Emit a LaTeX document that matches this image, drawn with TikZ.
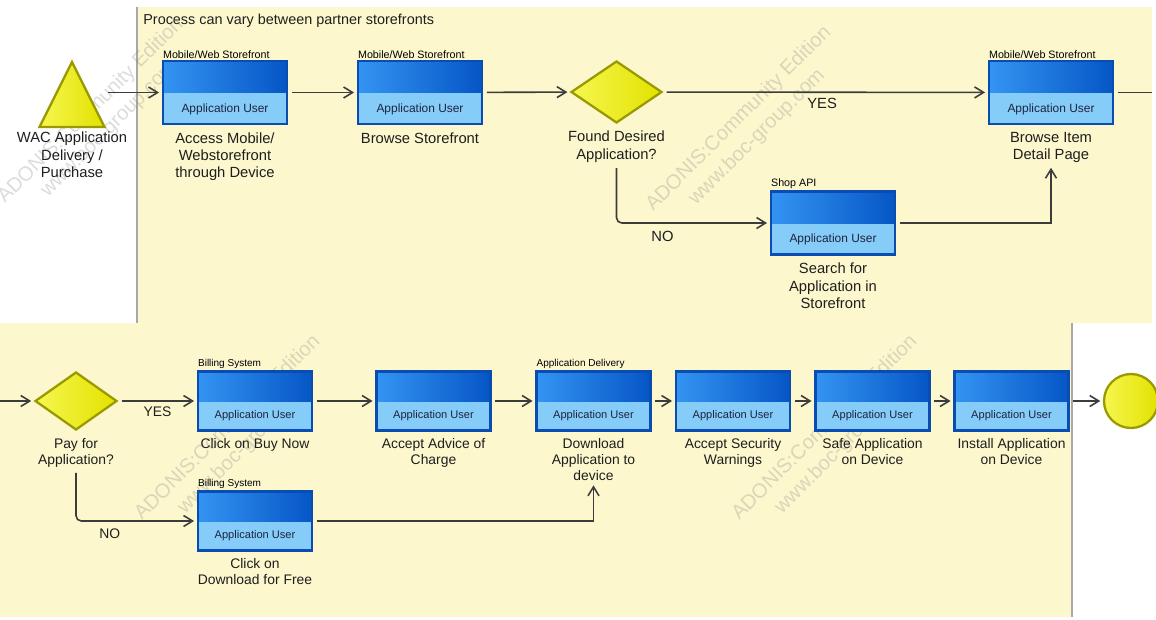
\documentclass[tikz,border=0pt]{standalone}
\usepackage{fontspec}
\setmainfont{Liberation Sans}
\usepackage{tikz}
\usetikzlibrary{shapes,arrows,positioning,calc,arrows.meta}

\definecolor{bandfill}{HTML}{FDF7CE}
\definecolor{bandline}{HTML}{A8A8A8}
\definecolor{taskline}{HTML}{0A4DB2}
\definecolor{tasktop}{HTML}{3494F2}
\definecolor{taskdark}{HTML}{0656C6}
\definecolor{taskrole}{HTML}{86CCF8}
\definecolor{roletext}{HTML}{1C2440}
\definecolor{gatefill}{HTML}{F6F650}
\definecolor{gatedark}{HTML}{E2E200}
\definecolor{gateline}{HTML}{9A9A00}
\definecolor{flowline}{HTML}{3C3C3C}
\definecolor{captext}{HTML}{1E1E1E}

\tikzstyle{arrow} = [-{Straight Barb[length=1.8mm,width=2.2mm]}, line width=0.9pt, draw=flowline, shorten <=2pt, shorten >=1.5pt]
\tikzstyle{flow} = [line width=0.9pt, draw=flowline]
\tikzstyle{task} = [rectangle, draw=taskline, line width=1.5pt, fill=taskrole, minimum width=2.48cm, minimum height=1.26cm, inner sep=0pt,
  path picture={\shade[left color=tasktop, right color=taskdark] (path picture bounding box.north west) rectangle (path picture bounding box.east);}]
\tikzstyle{smalltask} = [task, minimum width=2.28cm, minimum height=1.18cm]
\tikzstyle{role} = [font=\fontsize{6.8}{8}\selectfont, text=roletext, anchor=center, yshift=0.32cm]
\tikzstyle{smallrole} = [role, font=\fontsize{6.3}{7.5}\selectfont]
\tikzstyle{hdr} = [font=\fontsize{6.1}{7}\selectfont, anchor=south west, inner sep=0.6pt]
\tikzstyle{smallhdr} = [hdr, font=\fontsize{5.7}{6.5}\selectfont]
\tikzstyle{caption} = [font=\fontsize{8.4}{9.9}\selectfont, align=center, text=captext, inner sep=1pt]
\tikzstyle{smallcaption} = [caption, font=\fontsize{7.9}{9.1}\selectfont]
\tikzstyle{gate} = [diamond, draw=gateline, line width=1.3pt, left color=gatefill, right color=gatedark, inner sep=0pt]
\tikzstyle{stamp} = [font=\fontsize{11.5}{14.7}\selectfont, text=gray, text opacity=0.28, rotate=45, align=center]

\begin{document}
\begin{tikzpicture}[x=0.02cm, y=-0.02cm]
    \useasboundingbox (0,0) rectangle (1156,619);

    % Lanes
    \fill[bandfill] (137,7) rectangle (1152,323);
    \fill[bandfill] (0,323) rectangle (1072,617);
    \draw[bandline, line width=0.8pt] (137,7) -- (137,323);
    \draw[bandline, line width=0.8pt] (1072,323) -- (1072,617);
    \node[anchor=west, font=\fontsize{8.2}{10}\selectfont, text=captext, inner sep=0pt] (lanetitle) at (143,21) {Process can vary between partner storefronts};

    % Watermarks
    \node[stamp] (wm1) at (100,120) {ADONIS:Community Edition\\www.boc-group.com};
    \node[stamp] (wm2) at (748,128) {ADONIS:Community Edition\\www.boc-group.com};
    \node[stamp] (wm3) at (237,437) {ADONIS:Community Edition\\www.boc-group.com};
    \node[stamp] (wm4) at (834,437) {ADONIS:Community Edition\\www.boc-group.com};

    % Start
    \node[isosceles triangle, shape border rotate=90, isosceles triangle stretches, minimum width=1.3cm, minimum height=1.3cm, draw=gateline, line width=1.3pt, left color=gatefill, right color=gatedark, inner sep=0pt, anchor=apex] (start) at (72,59) {};
    \node[caption, below=0.04cm of start] (startcap) {WAC Application\\Delivery /\\Purchase};

    % Storefront lane
    \node[task, label={[hdr]north west:Mobile/Web Storefront}, label={[role]south:Application User}] (access) at (225,92.5) {};
    \node[caption, below=0.1cm of access] (accesscap) {Access Mobile/\\Webstorefront\\through Device};
    \node[task, label={[hdr]north west:Mobile/Web Storefront}, label={[role]south:Application User}] (browse) at (420,92.5) {};
    \node[caption, below=0.1cm of browse] (browsecap) {Browse Storefront};
    \node[gate, minimum width=1.82cm, minimum height=1.24cm] (found) at (616.5,92) {};
    \node[caption, below=0.1cm of found] (foundcap) {Found Desired\\Application?};
    \node[task, label={[hdr]north west:Shop API}, label={[role]south:Application User}] (search) at (833,223) {};
    \node[caption, below=0.1cm of search] (searchcap) {Search for\\Application in\\Storefront};
    \node[task, label={[hdr]north west:Mobile/Web Storefront}, label={[role]south:Application User}] (detail) at (1051,92.5) {};
    \node[caption, below=0.1cm of detail] (detailcap) {Browse Item\\Detail Page};
    \coordinate (wrapR) at (1152,92.5);

    % Purchase lane
    \coordinate (wrapL) at (0,401);
    \node[gate, minimum width=1.64cm, minimum height=1.16cm] (pay) at (76,401) {};
    \node[smallcaption, below=0.1cm of pay] (paycap) {Pay for\\Application?};
    \node[smalltask, label={[smallhdr]north west:Billing System}, label={[smallrole]south:Application User}] (buy) at (255,401) {};
    \node[smallcaption, below=0.09cm of buy] (buycap) {Click on Buy Now};
    \node[smalltask, label={[smallhdr]north west:Billing System}, label={[smallrole]south:Application User}] (free) at (255,521) {};
    \node[smallcaption, below=0.09cm of free] (freecap) {Click on\\Download for Free};
    \node[smalltask, label={[smallrole]south:Application User}] (advice) at (433.5,401) {};
    \node[smallcaption, below=0.09cm of advice] (advicecap) {Accept Advice of\\Charge};
    \node[smalltask, label={[smallhdr]north west:Application Delivery}, label={[smallrole]south:Application User}] (download) at (593.5,401) {};
    \node[smallcaption, below=0.09cm of download] (downloadcap) {Download\\Application to\\device};
    \node[smalltask, label={[smallrole]south:Application User}] (security) at (733,401) {};
    \node[smallcaption, below=0.09cm of security] (securitycap) {Accept Security\\Warnings};
    \node[smalltask, label={[smallrole]south:Application User}] (safe) at (872.5,401) {};
    \node[smallcaption, below=0.09cm of safe] (safecap) {Safe Application\\on Device};
    \node[smalltask, label={[smallrole]south:Application User}] (install) at (1011.5,401) {};
    \node[smallcaption, below=0.09cm of install] (installcap) {Install Application\\on Device};

    % End
    \node[circle, draw=gateline, line width=1.3pt, left color=gatefill, right color=gatedark, minimum size=1.08cm, inner sep=0pt] (finish) at (1131,401) {};

    % Connectors
    \draw[arrow, shorten <=0.72cm] (start.apex |- access.west) -- (access.west);
    \draw[arrow] (access) -- (browse);
    \draw[arrow] (browse) -- (found);
    \draw[arrow] (found) -- node[caption, below=2pt, pos=0.49] {YES} (detail);
    \draw[arrow, rounded corners=3pt] (foundcap.south) |- node[caption, below=3pt, pos=0.65] {NO} (search.west);
    \draw[arrow] (search.east) -| (detailcap.south);
    \draw[flow, shorten <=2pt] (detail) -- (wrapR);
    \draw[arrow, shorten <=0pt] (wrapL) -- (pay);
    \draw[arrow] (pay) -- node[smallcaption, below=2pt] {YES} (buy);
    \draw[arrow, rounded corners=3pt] (paycap.south) |- node[smallcaption, below=3pt, pos=0.64] {NO} (free.west);
    \draw[arrow] (free.east) -| (downloadcap.south);
    \draw[arrow] (buy) -- (advice);
    \draw[arrow] (advice) -- (download);
    \draw[arrow] (download) -- (security);
    \draw[arrow] (security) -- (safe);
    \draw[arrow] (safe) -- (install);
    \draw[arrow] (install) -- (finish);
\end{tikzpicture}
\end{document}
